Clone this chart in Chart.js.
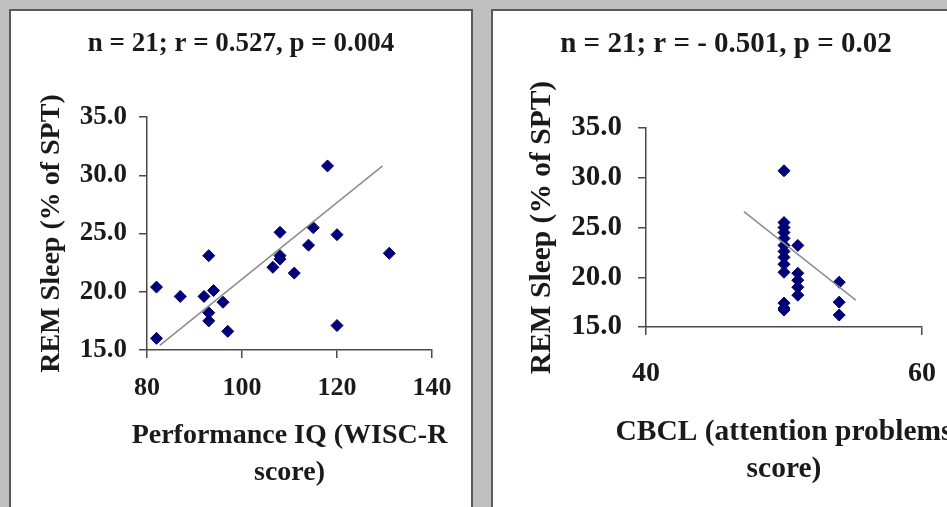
<!DOCTYPE html>
<html>
<head>
<meta charset="utf-8">
<script src="https://cdn.jsdelivr.net/npm/chart.js@4.4.0/dist/chart.umd.min.js"></script>
<style>
html, body { margin: 0; padding: 0; width: 947px; height: 507px; overflow: hidden; background: #c0c0c0; }
.panel { position: absolute; top: 9px; height: 520px; border: 2px solid #5a5a5a; background: #fff; }
#leftPanel { left: 9px; width: 460px; }
#rightPanel { left: 491px; width: 466px; }
canvas { display: block; }
</style>
</head>
<body>
<div class="panel" id="leftPanel"><canvas id="iqChart" width="460" height="496"></canvas></div>
<div class="panel" id="rightPanel"><canvas id="cbclChart" width="466" height="496"></canvas></div>
<script>
// Performance IQ vs REM sleep
const iqScores = [82, 82, 87, 92, 93, 93, 93, 94, 96, 97, 106.5, 108, 108, 108, 111, 114, 115, 118, 120, 120, 131];
const iqRem = [20.4, 16.0, 19.6, 19.6, 23.1, 18.2, 17.5, 20.1, 19.1, 16.6, 22.1, 25.1, 23.1, 22.8, 21.6, 24.0, 25.5, 30.8, 24.9, 17.1, 23.3];
const iqTrendX = [82.7, 129.6];
const iqTrendY = [15.4, 30.8];

// CBCL attention problems vs REM sleep
const cbclScores = [50, 50, 50, 50, 50, 50, 50, 50, 50, 50, 50, 50, 50, 51, 51, 51, 51, 51, 54, 54, 54];
const cbclRem = [30.7, 25.5, 25.0, 24.5, 23.9, 23.2, 22.6, 22.0, 21.3, 20.5, 17.4, 16.7, 16.9, 23.2, 20.4, 19.7, 19.0, 18.2, 19.5, 17.5, 16.2];
const cbclTrendX = [47.1, 55.2];
const cbclTrendY = [26.6, 17.7];

const remTicks = [15, 20, 25, 30, 35];
const iqTicks = [80, 100, 120, 140];
const cbclTicks = [40, 60];

const serif = "'Liberation Serif', 'Times New Roman', serif";
const ink = "#1a1a1a";
const axisColor = "#4a4a4a";

// x axis title drawn under the plot, centred on the plot area but allowed to be wider than it
const xCaption = {
    id: "xCaption",
    afterDraw(chart, args, opts) {
        const { ctx, chartArea } = chart;
        const cx = (chartArea.left + chartArea.right) / 2;
        ctx.save();
        ctx.font = "bold " + opts.size + "px " + serif;
        ctx.fillStyle = ink;
        ctx.textAlign = "center";
        ctx.textBaseline = "middle";
        opts.lines.forEach((line, i) => {
            ctx.fillText(line, cx, chartArea.bottom + opts.offset + i * opts.lineGap);
        });
        ctx.restore();
    }
};

function toPoints(xs, ys) {
    return xs.map((x, i) => ({ x: x, y: ys[i] }));
}

function makeChart(id, cfg) {
    const ctx = document.getElementById(id).getContext("2d");
    return new Chart(ctx, {
        type: "scatter",
        plugins: [xCaption],
        data: {
            datasets: [{
                type: "line",
                data: toPoints(cfg.trendX, cfg.trendY),
                borderColor: "#8c8c8c",
                borderWidth: 1.5,
                pointRadius: 0,
                fill: false
            }, {
                data: toPoints(cfg.xs, cfg.ys),
                pointStyle: "rectRot",
                pointRadius: 6,
                backgroundColor: "#00007e",
                borderColor: "#00005a",
                borderWidth: 1
            }]
        },
        options: {
            responsive: false,
            animation: false,
            layout: { padding: 0 },
            plugins: {
                legend: { display: false },
                tooltip: { enabled: false },
                title: {
                    display: true,
                    text: cfg.title,
                    color: ink,
                    font: { family: serif, size: cfg.titleSize, weight: "bold" },
                    padding: { top: cfg.titleTop, bottom: cfg.titleBottom }
                },
                xCaption: {
                    lines: cfg.xTitle,
                    size: cfg.axisTitleSize,
                    offset: cfg.xTitleOffset,
                    lineGap: 37
                }
            },
            scales: {
                x: {
                    type: "linear",
                    min: cfg.xTicks[0],
                    max: cfg.xTicks[cfg.xTicks.length - 1],
                    afterBuildTicks: s => { s.ticks = cfg.xTicks.map(v => ({ value: v })); },
                    afterFit: s => { s.height = cfg.xHeight; },
                    ticks: {
                        color: ink,
                        padding: cfg.xTickPad,
                        maxRotation: 0,
                        font: { family: serif, size: cfg.xTickSize, weight: "bold" }
                    },
                    grid: { drawOnChartArea: false, drawTicks: true, tickLength: 8, color: axisColor, lineWidth: 1.5 },
                    border: { display: true, color: axisColor, width: 1.5 },
                    title: { display: false }
                },
                y: {
                    type: "linear",
                    min: remTicks[0],
                    max: remTicks[remTicks.length - 1],
                    afterBuildTicks: s => { s.ticks = remTicks.map(v => ({ value: v })); },
                    afterFit: s => { s.width = cfg.yWidth; },
                    ticks: {
                        color: ink,
                        padding: cfg.yTickPad,
                        font: { family: serif, size: cfg.yTickSize, weight: "bold" },
                        callback: v => Number(v).toFixed(1)
                    },
                    grid: { drawOnChartArea: false, drawTicks: true, tickLength: 8, color: axisColor, lineWidth: 1.5 },
                    border: { display: true, color: axisColor, width: 1.5 },
                    title: {
                        display: true,
                        text: "REM Sleep (% of SPT)",
                        color: ink,
                        font: { family: serif, size: cfg.axisTitleSize, weight: "bold" },
                        padding: { top: cfg.yTitlePad, bottom: 0 }
                    }
                },
                // empty right-hand axis, only keeps space on the right of the plot
                spacer: {
                    type: "linear",
                    position: "right",
                    afterFit: s => { s.width = cfg.padRight; },
                    ticks: { display: false },
                    grid: { display: false },
                    border: { display: false }
                }
            }
        }
    });
}

makeChart("iqChart", {
    title: "n = 21; r = 0.527, p = 0.004",
    xs: iqScores, ys: iqRem, trendX: iqTrendX, trendY: iqTrendY,
    xTicks: iqTicks,
    xTitle: ["Performance IQ (WISC-R", "score)"],
    titleSize: 27, xTickSize: 26, yTickSize: 27, axisTitleSize: 28,
    titleTop: 17, titleBottom: 56.6,
    xHeight: 157, xTickPad: 15, xTitleOffset: 85.5,
    yWidth: 136, yTickPad: 12, yTitlePad: 24,
    padRight: 39
});

makeChart("cbclChart", {
    title: "n = 21; r = - 0.501, p = 0.02",
    xs: cbclScores, ys: cbclRem, trendX: cbclTrendX, trendY: cbclTrendY,
    xTicks: cbclTicks,
    xTitle: ["CBCL (attention problems", "score)"],
    titleSize: 29, xTickSize: 28, yTickSize: 29, axisTitleSize: 29.5,
    titleTop: 16.6, titleBottom: 65.6,
    xHeight: 180, xTickPad: 22, xTitleOffset: 105.5,
    yWidth: 153, yTickPad: 16, yTitlePad: 31.5,
    padRight: 37
});
</script>
</body>
</html>
